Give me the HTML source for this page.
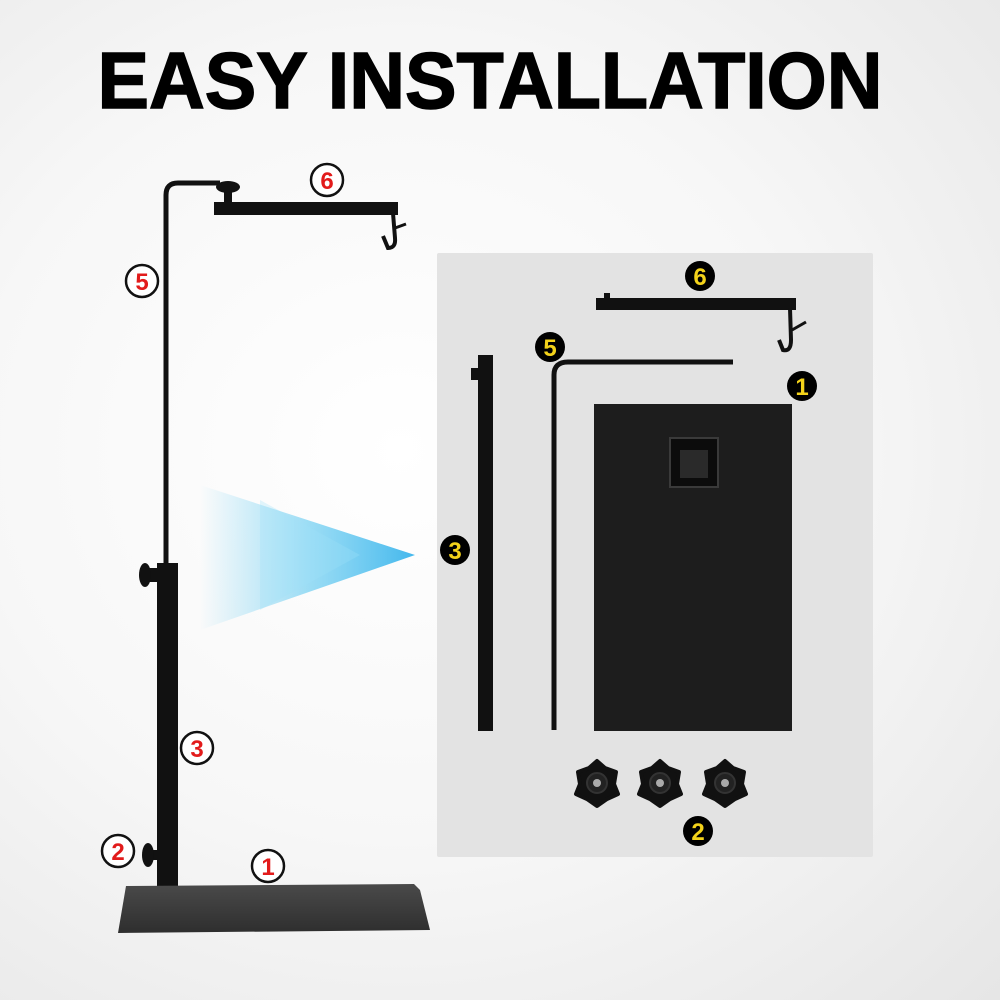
<!DOCTYPE html>
<html><head><style>
html,body{margin:0;padding:0;}
body{width:1000px;height:1000px;overflow:hidden;background:radial-gradient(ellipse at 40% 45%,#ffffff 0%,#f7f7f7 50%,#e6e6e6 100%);}
svg{display:block}
</style></head><body>
<svg width="1000" height="1000" viewBox="0 0 1000 1000" xmlns="http://www.w3.org/2000/svg">
<defs>
<linearGradient id="bl" x1="0" y1="0" x2="1" y2="0">
<stop offset="0" stop-color="#5cc8f0" stop-opacity="0"/>
<stop offset="0.5" stop-color="#5cc8f0" stop-opacity="0.6"/>
<stop offset="1" stop-color="#3ab4ec" stop-opacity="0.95"/>
</linearGradient>
<linearGradient id="base" x1="0" y1="0" x2="0" y2="1">
<stop offset="0" stop-color="#4a4a4a"/><stop offset="1" stop-color="#2e2e2e"/>
</linearGradient>
<g id="knob">
<path d="M0,-22 L8,-15 L19,-11 L17,1 L21,11 L10,16 L0,23 L-10,16 L-21,11 L-17,1 L-19,-11 L-8,-15Z" fill="#111" stroke="#111" stroke-width="4" stroke-linejoin="round"/>
<circle r="10" fill="#222" stroke="#333" stroke-width="2"/>
<circle r="4" fill="#aaa"/>
</g>
</defs>
<text x="490" y="108" text-anchor="middle" font-family="Liberation Sans, sans-serif" font-weight="bold" font-size="80" textLength="785" lengthAdjust="spacingAndGlyphs" fill="#000" stroke="#000" stroke-width="1.5">EASY INSTALLATION</text>

<rect x="437" y="253" width="436" height="604" fill="#e3e3e3" rx="2"/>

<polygon points="200,485 415,555 200,630" fill="url(#bl)"/>
<polygon points="260,500 360,555 260,610" fill="#9ee0f7" opacity="0.3"/>

<path d="M166,568 L166,195 Q166,183 178,183 L220,183" fill="none" stroke="#111" stroke-width="5"/>
<rect x="214" y="202" width="184" height="13" fill="#111"/>
<rect x="224" y="190" width="8" height="14" fill="#111"/>
<ellipse cx="228" cy="187" rx="12" ry="6" fill="#111"/>
<path d="M393,213 L395,238 Q396,248 388,248 L383,236" fill="none" stroke="#111" stroke-width="4"/>
<path d="M395,228 L406,224" fill="none" stroke="#111" stroke-width="3"/>
<rect x="157" y="563" width="21" height="345" fill="#111"/>
<rect x="146" y="568" width="12" height="14" fill="#111"/>
<ellipse cx="145" cy="575" rx="6" ry="12" fill="#111"/>
<rect x="150" y="850" width="8" height="10" fill="#111"/>
<ellipse cx="148" cy="855" rx="6" ry="12" fill="#111"/>
<polygon points="126,886 414,884 420,890 430,930 118,933" fill="url(#base)"/>

<g font-family="Liberation Sans, sans-serif" font-weight="bold" font-size="24" text-anchor="middle" fill="#e21b1b">
<circle cx="327" cy="180" r="16" fill="#fff" stroke="#111" stroke-width="2.5"/><text x="327" y="189">6</text>
<circle cx="142" cy="281" r="16" fill="#fff" stroke="#111" stroke-width="2.5"/><text x="142" y="290">5</text>
<circle cx="197" cy="748" r="16" fill="#fff" stroke="#111" stroke-width="2.5"/><text x="197" y="757">3</text>
<circle cx="118" cy="851" r="16" fill="#fff" stroke="#111" stroke-width="2.5"/><text x="118" y="860">2</text>
<circle cx="268" cy="866" r="16" fill="#fff" stroke="#111" stroke-width="2.5"/><text x="268" y="875">1</text>
</g>

<rect x="478" y="355" width="15" height="376" fill="#111"/>
<rect x="471" y="368" width="8" height="12" fill="#111"/>
<path d="M554,730 L554,375 Q554,362 568,362 L733,362" fill="none" stroke="#111" stroke-width="5"/>
<rect x="596" y="298" width="200" height="12" fill="#111"/>
<rect x="604" y="293" width="6" height="7" fill="#111"/>
<path d="M790,308 L791,340 Q791,352 783,350 L779,340" fill="none" stroke="#111" stroke-width="4"/>
<path d="M792,330 L806,322" fill="none" stroke="#111" stroke-width="3"/>
<rect x="594" y="404" width="198" height="327" fill="#1d1d1d"/>
<rect x="670" y="438" width="48" height="49" fill="#0c0c0c" stroke="#3a3a3a" stroke-width="2"/>
<rect x="680" y="450" width="28" height="28" fill="#2a2a2a"/>
<use href="#knob" x="597" y="783"/>
<use href="#knob" x="660" y="783"/>
<use href="#knob" x="725" y="783"/>

<g font-family="Liberation Sans, sans-serif" font-weight="bold" font-size="24" text-anchor="middle" fill="#f3d21a">
<circle cx="700" cy="276" r="15" fill="#000"/><text x="700" y="285">6</text>
<circle cx="550" cy="347" r="15" fill="#000"/><text x="550" y="356">5</text>
<circle cx="802" cy="386" r="15" fill="#000"/><text x="802" y="395">1</text>
<circle cx="455" cy="550" r="15" fill="#000"/><text x="455" y="559">3</text>
<circle cx="698" cy="831" r="15" fill="#000"/><text x="698" y="840">2</text>
</g>
</svg>
</body></html>
